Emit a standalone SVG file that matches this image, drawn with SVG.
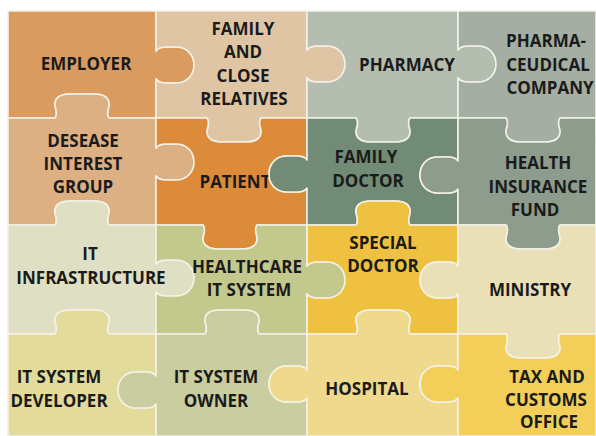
<svg xmlns="http://www.w3.org/2000/svg" width="596" height="436" viewBox="0 0 596 436">
<style>
.p{stroke:#f4f1e6;stroke-width:1.6;stroke-linejoin:round}
text{font-family:"Open Sans","Liberation Sans",sans-serif;font-weight:bold;font-size:17px;fill:#1b1b1b;text-anchor:middle}
</style>
<rect width="596" height="436" fill="#ffffff"/>
<g id="employer"><path class="p" fill="#D99B5F" d="M8,11 H156 V51 c2,-3 5,-4 10,-4 h10 c11,0 18,8 18,18 c0,10 -7,18 -18,18 h-10 c-5,0 -8,-1 -10,-4 V118 H109 c-3,-4 -1,-8 0,-12 c1,-8 -5,-12 -15,-12 h-24 c-10,0 -16,4 -15,12 c1,4 3,8 0,12 H8 Z"/><text x="86" y="70">EMPLOYER</text></g>
<g id="family"><path class="p" fill="#E0C5A5" d="M156,11 H307 V50 c2,-3 5,-4 10,-4 h10 c11,0 18,8 18,18 c0,10 -7,18 -18,18 h-10 c-5,0 -8,-1 -10,-4 V118 H261 c-3,4 -1,8 0,12 c1,8 -5,12 -15,12 h-24 c-10,0 -16,-4 -15,-12 c1,-4 3,-8 0,-12 H156 V79 c2,3 5,4 10,4 h10 c11,0 18,-8 18,-18 c0,-10 -7,-18 -18,-18 h-10 c-5,0 -8,1 -10,4 Z"/><text x="243" y="35">FAMILY</text><text x="243" y="58">AND</text><text x="243" y="82">CLOSE</text><text x="244" y="105">RELATIVES</text></g>
<g id="pharmacy"><path class="p" fill="#B3BDB0" d="M307,11 H458 V50 c2,-3 5,-4 10,-4 h10 c11,0 18,8 18,18 c0,10 -7,18 -18,18 h-10 c-5,0 -8,-1 -10,-4 V118 H410 c-3,4 -1,8 0,12 c1,8 -5,12 -15,12 h-24 c-10,0 -16,-4 -15,-12 c1,-4 3,-8 0,-12 H307 V78 c2,3 5,4 10,4 h10 c11,0 18,-8 18,-18 c0,-10 -7,-18 -18,-18 h-10 c-5,0 -8,1 -10,4 Z"/><text x="407" y="71">PHARMACY</text></g>
<g id="pharmaceudical"><path class="p" fill="#A4AEA2" d="M458,11 H596 V118 H560 c-3,4 -1,8 0,12 c1,8 -5,12 -15,12 h-24 c-10,0 -16,-4 -15,-12 c1,-4 3,-8 0,-12 H458 V78 c2,3 5,4 10,4 h10 c11,0 18,-8 18,-18 c0,-10 -7,-18 -18,-18 h-10 c-5,0 -8,1 -10,4 Z"/><text x="546" y="47">PHARMA-</text><text x="548" y="71">CEUDICAL</text><text x="550" y="94">COMPANY</text></g>
<g id="desease"><path class="p" fill="#DDB083" d="M8,118 H55 c3,-4 1,-8 0,-12 c-1,-8 5,-12 15,-12 h24 c10,0 16,4 15,12 c-1,4 -3,8 0,12 H156 V148 c2,-3 5,-4 10,-4 h10 c11,0 18,8 18,18 c0,10 -7,18 -18,18 h-10 c-5,0 -8,-1 -10,-4 V225 H109 c-3,-4 -1,-8 0,-12 c1,-8 -5,-12 -15,-12 h-24 c-10,0 -16,4 -15,12 c1,4 3,8 0,12 H8 Z"/><text x="83" y="147">DESEASE</text><text x="83" y="170">INTEREST</text><text x="83" y="193">GROUP</text></g>
<g id="patient"><path class="p" fill="#DC8B3B" d="M156,118 H207 c3,4 1,8 0,12 c-1,8 5,12 15,12 h24 c10,0 16,-4 15,-12 c-1,-4 -3,-8 0,-12 H307 V160 c-2,-3 -5,-4 -10,-4 h-10 c-11,0 -18,8 -18,18 c0,10 7,18 18,18 h10 c5,0 8,-1 10,-4 V225 H257 c-3,4 -1,8 0,12 c1,8 -5,12 -15,12 h-24 c-10,0 -16,-4 -15,-12 c1,-4 3,-8 0,-12 H156 V176 c2,3 5,4 10,4 h10 c11,0 18,-8 18,-18 c0,-10 -7,-18 -18,-18 h-10 c-5,0 -8,1 -10,4 Z"/><text x="235" y="188">PATIENT</text></g>
<g id="family-doctor"><path class="p" fill="#728B76" d="M307,118 H356 c3,4 1,8 0,12 c-1,8 5,12 15,12 h24 c10,0 16,-4 15,-12 c-1,-4 -3,-8 0,-12 H458 V161 c-2,-3 -5,-4 -10,-4 h-10 c-11,0 -18,8 -18,18 c0,10 7,18 18,18 h10 c5,0 8,-1 10,-4 V225 H410 c-3,-4 -1,-8 0,-12 c1,-8 -5,-12 -15,-12 h-24 c-10,0 -16,4 -15,12 c1,4 3,8 0,12 H307 V188 c-2,3 -5,4 -10,4 h-10 c-11,0 -18,-8 -18,-18 c0,-10 7,-18 18,-18 h10 c5,0 8,1 10,4 Z"/><text x="366" y="163">FAMILY</text><text x="368" y="187">DOCTOR</text></g>
<g id="health-insurance"><path class="p" fill="#8D9C8D" d="M458,118 H506 c3,4 1,8 0,12 c-1,8 5,12 15,12 h24 c10,0 16,-4 15,-12 c-1,-4 -3,-8 0,-12 H596 V225 H560 c-3,4 -1,8 0,12 c1,8 -5,12 -15,12 h-24 c-10,0 -16,-4 -15,-12 c1,-4 3,-8 0,-12 H458 V189 c-2,3 -5,4 -10,4 h-10 c-11,0 -18,-8 -18,-18 c0,-10 7,-18 18,-18 h10 c5,0 8,1 10,4 Z"/><text x="538" y="169">HEALTH</text><text x="538" y="193">INSURANCE</text><text x="535" y="216">FUND</text></g>
<g id="it-infrastructure"><path class="p" fill="#DFE0C3" d="M8,225 H55 c3,-4 1,-8 0,-12 c-1,-8 5,-12 15,-12 h24 c10,0 16,4 15,12 c-1,4 -3,8 0,12 H156 V264 c2,-3 5,-4 10,-4 h10 c11,0 18,8 18,18 c0,10 -7,18 -18,18 h-10 c-5,0 -8,-1 -10,-4 V334 H109 c-3,-4 -1,-8 0,-12 c1,-8 -5,-12 -15,-12 h-24 c-10,0 -16,4 -15,12 c1,4 3,8 0,12 H8 Z"/><text x="90" y="260">IT</text><text x="91" y="284">INFRASTRUCTURE</text></g>
<g id="healthcare-it"><path class="p" fill="#C3C88D" d="M156,225 H203 c3,4 1,8 0,12 c-1,8 5,12 15,12 h24 c10,0 16,-4 15,-12 c-1,-4 -3,-8 0,-12 H307 V266 c2,-3 5,-4 10,-4 h10 c11,0 18,8 18,18 c0,10 -7,18 -18,18 h-10 c-5,0 -8,-1 -10,-4 V334 H259 c-3,-4 -1,-8 0,-12 c1,-8 -5,-12 -15,-12 h-24 c-10,0 -16,4 -15,12 c1,4 3,8 0,12 H156 V292 c2,3 5,4 10,4 h10 c11,0 18,-8 18,-18 c0,-10 -7,-18 -18,-18 h-10 c-5,0 -8,1 -10,4 Z"/><text x="247" y="273">HEALTHCARE</text><text x="249" y="296">IT SYSTEM</text></g>
<g id="special-doctor"><path class="p" fill="#EEC240" d="M307,225 H356 c3,-4 1,-8 0,-12 c-1,-8 5,-12 15,-12 h24 c10,0 16,4 15,12 c-1,4 -3,8 0,12 H458 V266 c-2,-3 -5,-4 -10,-4 h-10 c-11,0 -18,8 -18,18 c0,10 7,18 18,18 h10 c5,0 8,-1 10,-4 V334 H410 c-3,-4 -1,-8 0,-12 c1,-8 -5,-12 -15,-12 h-24 c-10,0 -16,4 -15,12 c1,4 3,8 0,12 H307 V294 c2,3 5,4 10,4 h10 c11,0 18,-8 18,-18 c0,-10 -7,-18 -18,-18 h-10 c-5,0 -8,1 -10,4 Z"/><text x="383" y="249">SPECIAL</text><text x="383" y="272">DOCTOR</text></g>
<g id="ministry"><path class="p" fill="#E9E0B8" d="M458,225 H506 c3,4 1,8 0,12 c-1,8 5,12 15,12 h24 c10,0 16,-4 15,-12 c-1,-4 -3,-8 0,-12 H596 V334 H560 c-3,4 -1,8 0,12 c1,8 -5,12 -15,12 h-24 c-10,0 -16,-4 -15,-12 c1,-4 3,-8 0,-12 H458 V294 c-2,3 -5,4 -10,4 h-10 c-11,0 -18,-8 -18,-18 c0,-10 7,-18 18,-18 h10 c5,0 8,1 10,4 Z"/><text x="530" y="296">MINISTRY</text></g>
<g id="it-system-developer"><path class="p" fill="#E2DB9C" d="M8,334 H55 c3,-4 1,-8 0,-12 c-1,-8 5,-12 15,-12 h24 c10,0 16,4 15,12 c-1,4 -3,8 0,12 H156 V376 c-2,-3 -5,-4 -10,-4 h-10 c-11,0 -18,8 -18,18 c0,10 7,18 18,18 h10 c5,0 8,-1 10,-4 V436 H8 Z"/><text x="59" y="383">IT SYSTEM</text><text x="59" y="407">DEVELOPER</text></g>
<g id="it-system-owner"><path class="p" fill="#C9CD9F" d="M156,334 H205 c3,-4 1,-8 0,-12 c-1,-8 5,-12 15,-12 h24 c10,0 16,4 15,12 c-1,4 -3,8 0,12 H307 V370 c-2,-3 -5,-4 -10,-4 h-10 c-11,0 -18,8 -18,18 c0,10 7,18 18,18 h10 c5,0 8,-1 10,-4 V436 H156 V404 c-2,3 -5,4 -10,4 h-10 c-11,0 -18,-8 -18,-18 c0,-10 7,-18 18,-18 h10 c5,0 8,1 10,4 Z"/><text x="216" y="383">IT SYSTEM</text><text x="216" y="407">OWNER</text></g>
<g id="hospital"><path class="p" fill="#EFD98C" d="M307,334 H356 c3,-4 1,-8 0,-12 c-1,-8 5,-12 15,-12 h24 c10,0 16,4 15,12 c-1,4 -3,8 0,12 H458 V370 c-2,-3 -5,-4 -10,-4 h-10 c-11,0 -18,8 -18,18 c0,10 7,18 18,18 h10 c5,0 8,-1 10,-4 V436 H307 V398 c-2,3 -5,4 -10,4 h-10 c-11,0 -18,-8 -18,-18 c0,-10 7,-18 18,-18 h10 c5,0 8,1 10,4 Z"/><text x="367" y="395">HOSPITAL</text></g>
<g id="tax-customs"><path class="p" fill="#F3CF59" d="M458,334 H506 c3,4 1,8 0,12 c-1,8 5,12 15,12 h24 c10,0 16,-4 15,-12 c-1,-4 -3,-8 0,-12 H596 V436 H458 V398 c-2,3 -5,4 -10,4 h-10 c-11,0 -18,-8 -18,-18 c0,-10 7,-18 18,-18 h10 c5,0 8,1 10,4 Z"/><text x="547" y="383">TAX AND</text><text x="546" y="406">CUSTOMS</text><text x="549" y="428">OFFICE</text></g>
</svg>
